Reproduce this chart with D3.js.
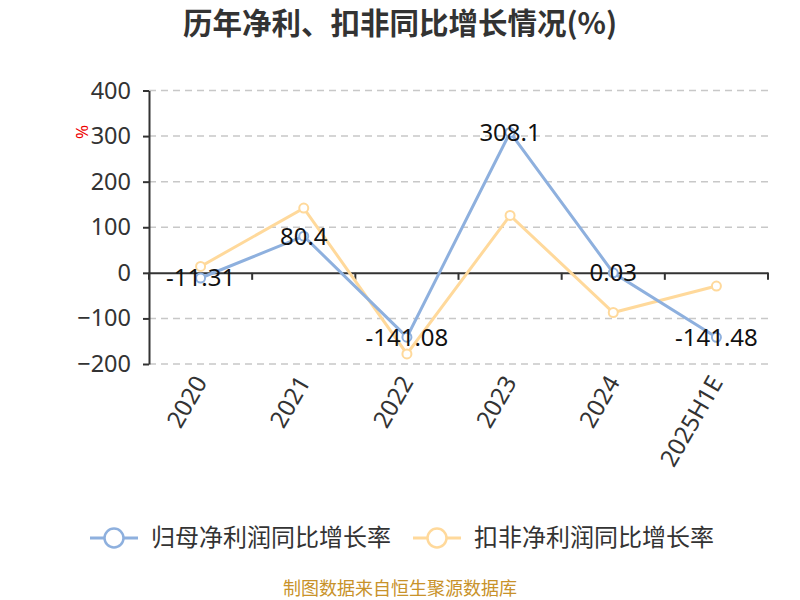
<!DOCTYPE html>
<html><head><meta charset="utf-8">
<script src="https://cdn.jsdelivr.net/npm/d3@7/dist/d3.min.js"></script>
<style>body{margin:0;background:#fff}svg{display:block}text{font-family:"Noto Sans","Noto Sans CJK SC",sans-serif}</style>
</head><body>
<script>
const categories = ["2020","2021","2022","2023","2024","2025H1E"];
const netProfitGrowth = [-11.31, 80.4, -141.08, 308.1, 0.03, -141.48];
const deductedGrowth = [14, 142, -178, 126, -87, -29];
const yTicks = [-200,-100,0,100,200,300,400];
const seriesNames = ["归母净利润同比增长率","扣非净利润同比增长率"];
const colors = ["#8EB0DE","#FFD99B"];

const W=800,H=600;
const svg=d3.select("body").append("svg").attr("width",W).attr("height",H);
const x=d3.scaleBand().domain(categories).range([149,768]);
const y=d3.scaleLinear().domain([-200,400]).range([364,90.5]);

svg.append("text").attr("x",400).attr("y",34).attr("text-anchor","middle")
  .attr("font-size",29.5).attr("font-weight","bold").attr("fill","#333")
  .style("font-family","'Noto Sans CJK SC',sans-serif").text("历年净利、扣非同比增长情况(%)");

// grid
svg.append("g").selectAll("line").data(yTicks.filter(d=>d!==0)).join("line")
  .attr("x1",149).attr("x2",768).attr("y1",d=>y(d)).attr("y2",d=>y(d))
  .attr("stroke","#c8c8c8").attr("stroke-width",1.5).attr("stroke-dasharray","7,5");

// y axis
const ya=svg.append("g").attr("transform","translate(149,0)")
  .call(d3.axisLeft(y).tickValues(yTicks).tickSize(6).tickPadding(12).tickSizeOuter(0));
ya.select(".domain").attr("stroke","#333").attr("stroke-width",2);
ya.selectAll(".tick line").attr("stroke","#333").attr("stroke-width",2);
ya.selectAll(".tick text").attr("font-size",23.5).attr("fill","#333").style("font-family","'Noto Sans',sans-serif");

// x axis at zero
const xa=svg.append("g").attr("transform",`translate(0,${y(0)})`)
  .call(d3.axisBottom(x).tickSize(0).tickFormat(""));
xa.select(".domain").attr("stroke","#333").attr("stroke-width",2);
const bounds=categories.map(c=>x(c)).concat([x.range()[1]]);
svg.append("g").selectAll("line").data(bounds).join("line")
  .attr("x1",d=>d).attr("x2",d=>d).attr("y1",y(0)).attr("y2",y(0)+7)
  .attr("stroke","#333").attr("stroke-width",2);

// x labels
svg.append("g").selectAll("text").data(categories).join("text")
  .attr("transform",d=>`translate(${x(d)+x.bandwidth()/2},${378}) rotate(-60)`)
  .attr("text-anchor","end").attr("dy","0.35em").attr("font-size",24).attr("fill","#333")
  .text(d=>d);

// % label
svg.append("text").attr("transform","translate(88,132) rotate(-90)").attr("text-anchor","middle")
  .attr("font-size",17).attr("fill","#e00").text("%");

const line=d3.line().x((d,i)=>x(categories[i])+x.bandwidth()/2).y(d=>y(d));
[deductedGrowth,netProfitGrowth].forEach((data,k)=>{
  const c=k===0?colors[1]:colors[0];
  svg.append("path").datum(data).attr("d",line).attr("fill","none").attr("stroke",c).attr("stroke-width",3);
  svg.append("g").selectAll("circle").data(data).join("circle")
    .attr("cx",(d,i)=>x(categories[i])+x.bandwidth()/2).attr("cy",d=>y(d)).attr("r",4.5)
    .attr("fill","#fff").attr("stroke",c).attr("stroke-width",2);
});
// labels on blue series
svg.append("g").selectAll("text").data(netProfitGrowth).join("text")
  .attr("x",(d,i)=>x(categories[i])+x.bandwidth()/2).attr("y",d=>y(d)).attr("dy","0.35em")
  .attr("text-anchor","middle").attr("font-size",24).attr("fill","#111").text(d=>d);

// legend
const lg=[{x:90,name:seriesNames[0],c:colors[0]},{x:413,name:seriesNames[1],c:colors[1]}];
lg.forEach(l=>{
  const g=svg.append("g");
  g.append("line").attr("x1",l.x).attr("x2",l.x+48).attr("y1",538).attr("y2",538).attr("stroke",l.c).attr("stroke-width",3);
  g.append("circle").attr("cx",l.x+24).attr("cy",538).attr("r",9.5).attr("fill","#fff").attr("stroke",l.c).attr("stroke-width",2.5);
  g.append("text").attr("x",l.x+61).attr("y",538).attr("dy","0.35em").attr("font-size",24).attr("fill","#333")
    .style("font-family","'Noto Sans CJK SC',sans-serif").text(l.name);
});

svg.append("text").attr("x",400).attr("y",589).attr("dy","0.35em").attr("text-anchor","middle")
  .attr("font-size",18).attr("fill","#C8922A").style("font-family","'Noto Sans CJK SC',sans-serif")
  .text("制图数据来自恒生聚源数据库");
</script>
</body></html>
